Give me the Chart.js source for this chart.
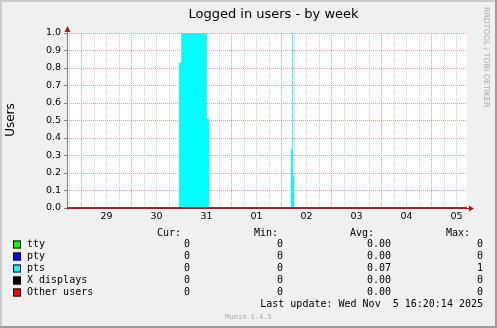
<!doctype html>
<html lang="en">
<head>
<meta charset="utf-8">
<style>
  * { margin: 0; padding: 0; }
  body { background: #f0f0f0; width: 497px; height: 328px; overflow: hidden; }
</style>
</head>
<body>
<canvas id="myChart" width="497" height="328"></canvas>
<script src="https://cdn.jsdelivr.net/npm/chart.js/dist/chart.umd.min.js"></script>
<script>
// x values are hours counted from 29 Oct 00:00
const xMin = -7, xMax = 185;
const dayTicks = [12, 36, 60, 84, 108, 132, 156, 180];
const dayLabels = ['29', '30', '31', '01', '02', '03', '04', '05'];

// pts: value holds from each time until the next one
const ptsHours = [-7, 46.8, 47.9, 60.1, 61.2, 100.5, 101.1, 101.5, 102.0, 185];
const ptsValues = [0, 0.83, 1.0, 0.51, 0, 0.33, 1.0, 0.18, 0, 0];
const zeroHours = [-7, 185];
const zeroValues = [0, 0];

// legend table
const seriesNames = ['tty', 'pty', 'pts', 'X displays', 'Other users'];
const seriesColors = ['#00ff00', '#0000ff', '#00ffff', '#000000', '#ff0000'];
const curValues = ['0', '0', '0', '0', '0'];
const minValues = ['0', '0', '0', '0', '0'];
const avgValues = ['0.00', '0.00', '0.07', '0.00', '0.00'];
const maxValues = ['0', '0', '1', '0', '0'];

const toPoints = (xs, ys) => xs.map((x, i) => ({x: x, y: ys[i]}));

const majorGrid = 'rgb(232, 158, 158)';
const minorGrid = 'rgb(208, 208, 208)';

// background, frame and white plot area
const frame = {
  id: 'frame',
  beforeDraw(chart) {
    const {ctx, width, height, chartArea: {top, bottom, left, right}} = chart;
    ctx.save();
    ctx.fillStyle = '#f0f0f0';
    ctx.fillRect(0, 0, width, height);
    ctx.fillStyle = '#cbcbcb';
    ctx.fillRect(0, 0, width, 2);
    ctx.fillRect(0, 0, 2, height);
    ctx.fillStyle = '#9c9c9c';
    ctx.fillRect(0, height - 2, width, 2);
    ctx.fillRect(width - 2, 0, 2, height);
    ctx.fillStyle = '#ffffff';
    ctx.fillRect(left, top, right - left, bottom - top);
    ctx.restore();
  },
  beforeDatasetsDraw(chart) {
    const {ctx, chartArea: {top, bottom, left, right}} = chart;
    ctx.save();
    ctx.strokeStyle = '#808080';
    ctx.lineWidth = 1;
    ctx.beginPath();
    ctx.moveTo(left + 0.5, bottom + 2);
    ctx.lineTo(left + 0.5, top - 4);
    ctx.stroke();
    ctx.strokeStyle = '#a02020';
    ctx.beginPath();
    ctx.moveTo(left, bottom + 0.5);
    ctx.lineTo(right + 3, bottom + 0.5);
    ctx.stroke();
    ctx.restore();
  },
  afterDatasetsDraw(chart) {
    const {ctx, chartArea: {top, bottom, left, right}} = chart;
    ctx.save();
    ctx.fillStyle = '#a02020';
    // top arrow
    ctx.beginPath();
    ctx.moveTo(left + 0.5, top - 7);
    ctx.lineTo(left + 3.5, top - 1);
    ctx.lineTo(left - 2.5, top - 1);
    ctx.closePath();
    ctx.fill();
    // right arrow
    ctx.beginPath();
    ctx.moveTo(right + 7, bottom + 0.5);
    ctx.lineTo(right + 2, bottom - 2.5);
    ctx.lineTo(right + 2, bottom + 3.5);
    ctx.closePath();
    ctx.fill();
    ctx.restore();
  }
};

// title, unit, watermark and legend table
const texts = {
  id: 'texts',
  afterDraw(chart) {
    const {ctx} = chart;
    ctx.save();
    ctx.fillStyle = '#000';
    ctx.font = '13px "DejaVu Sans"';
    ctx.textAlign = 'center';
    ctx.textBaseline = 'alphabetic';
    ctx.fillText('Logged in users - by week', 273.5, 18);

    ctx.save();
    ctx.translate(10.5, 120);
    ctx.rotate(-Math.PI / 2);
    ctx.font = '12px "DejaVu Sans"';
    ctx.textBaseline = 'middle';
    ctx.fillText('Users', 0, 0);
    ctx.restore();

    ctx.save();
    ctx.translate(486, 7);
    ctx.rotate(Math.PI / 2);
    ctx.font = '7.8px "DejaVu Sans"';
    ctx.fillStyle = '#a8a8a8';
    ctx.textAlign = 'left';
    ctx.textBaseline = 'middle';
    ctx.fillText('RRDTOOL / TOBI OETIKER', 0, 0);
    ctx.restore();

    ctx.font = '10px "DejaVu Sans Mono"';
    ctx.textBaseline = 'middle';
    ctx.textAlign = 'right';
    ctx.fillText('Cur:', 181, 233);
    ctx.fillText('Min:', 278, 233);
    ctx.fillText('Avg:', 374, 233);
    ctx.fillText('Max:', 470, 233);

    seriesNames.forEach((name, i) => {
      const y = 244.5 + i * 12;
      ctx.fillStyle = seriesColors[i];
      ctx.fillRect(13, y - 4, 8, 8);
      ctx.strokeStyle = '#000';
      ctx.lineWidth = 1;
      ctx.strokeRect(13.5, y - 3.5, 7, 7);
      ctx.fillStyle = '#000';
      ctx.textAlign = 'left';
      ctx.fillText(name, 27, y);
      ctx.textAlign = 'right';
      ctx.fillText(curValues[i], 190, y);
      ctx.fillText(minValues[i], 283, y);
      ctx.fillText(avgValues[i], 391, y);
      ctx.fillText(maxValues[i], 483, y);
    });

    ctx.fillText('Last update: Wed Nov  5 16:20:14 2025', 483, 304.5);

    ctx.font = '7px "DejaVu Sans Mono"';
    ctx.fillStyle = '#a8a8a8';
    ctx.textAlign = 'center';
    ctx.fillText('Munin 1.4.5', 248.5, 317);
    ctx.restore();
  }
};

const data = {
  datasets: [
    {label: 'tty', data: toPoints(zeroHours, zeroValues), borderColor: seriesColors[0], borderWidth: 1, order: 4},
    {label: 'pty', data: toPoints(zeroHours, zeroValues), borderColor: seriesColors[1], borderWidth: 1, order: 3},
    {label: 'pts', data: toPoints(ptsHours, ptsValues), stepped: true, fill: 'origin',
      backgroundColor: seriesColors[2], borderColor: seriesColors[2], borderWidth: 0, order: 2},
    {label: 'X displays', data: toPoints(zeroHours, zeroValues), borderColor: seriesColors[3], borderWidth: 1, order: 1},
    {label: 'Other users', data: toPoints(zeroHours, zeroValues), borderColor: seriesColors[4], borderWidth: 2, order: 0}
  ]
};

const sixHours = [];
for (let h = -6; h <= 180; h += 6) sixHours.push(h);

const config = {
  type: 'line',
  data,
  options: {
    responsive: false,
    animation: false,
    devicePixelRatio: 1,
    layout: {padding: {left: 0, top: 33, right: 30, bottom: 100}},
    elements: {point: {radius: 0}, line: {tension: 0}},
    scales: {
      x: {
        type: 'linear',
        min: xMin,
        max: xMax,
        afterBuildTicks(scale) {
          scale.ticks = sixHours.map(v => ({value: v}));
        },
        afterFit(scale) { scale.height = 20; },
        ticks: {
          autoSkip: false,
          maxRotation: 0,
          padding: 3,
          color: '#000',
          font: {family: 'DejaVu Sans', size: 9.5},
          callback(v) {
            const i = dayTicks.indexOf(v);
            return i >= 0 ? dayLabels[i] : '';
          }
        },
        grid: {
          drawTicks: false,
          color: ctx => (ctx.tick && ctx.tick.value % 24 === 0) ? majorGrid : minorGrid
        },
        border: {display: false, dash: [1, 1]}
      },
      y: {
        min: 0,
        max: 1,
        afterFit(scale) { scale.width = 67; },
        ticks: {
          stepSize: 0.1,
          padding: 3,
          color: '#000',
          font: {family: 'DejaVu Sans', size: 9.5},
          callback: v => v.toFixed(1)
        },
        grid: {
          color: majorGrid,
          tickColor: '#808080',
          tickLength: 3,
          tickBorderDash: []
        },
        border: {display: false, dash: [1, 1]}
      }
    },
    plugins: {
      legend: {display: false},
      tooltip: {enabled: false}
    }
  },
  plugins: [frame, texts]
};

const myChart = new Chart(document.getElementById('myChart'), config);
</script>
</body>
</html>
